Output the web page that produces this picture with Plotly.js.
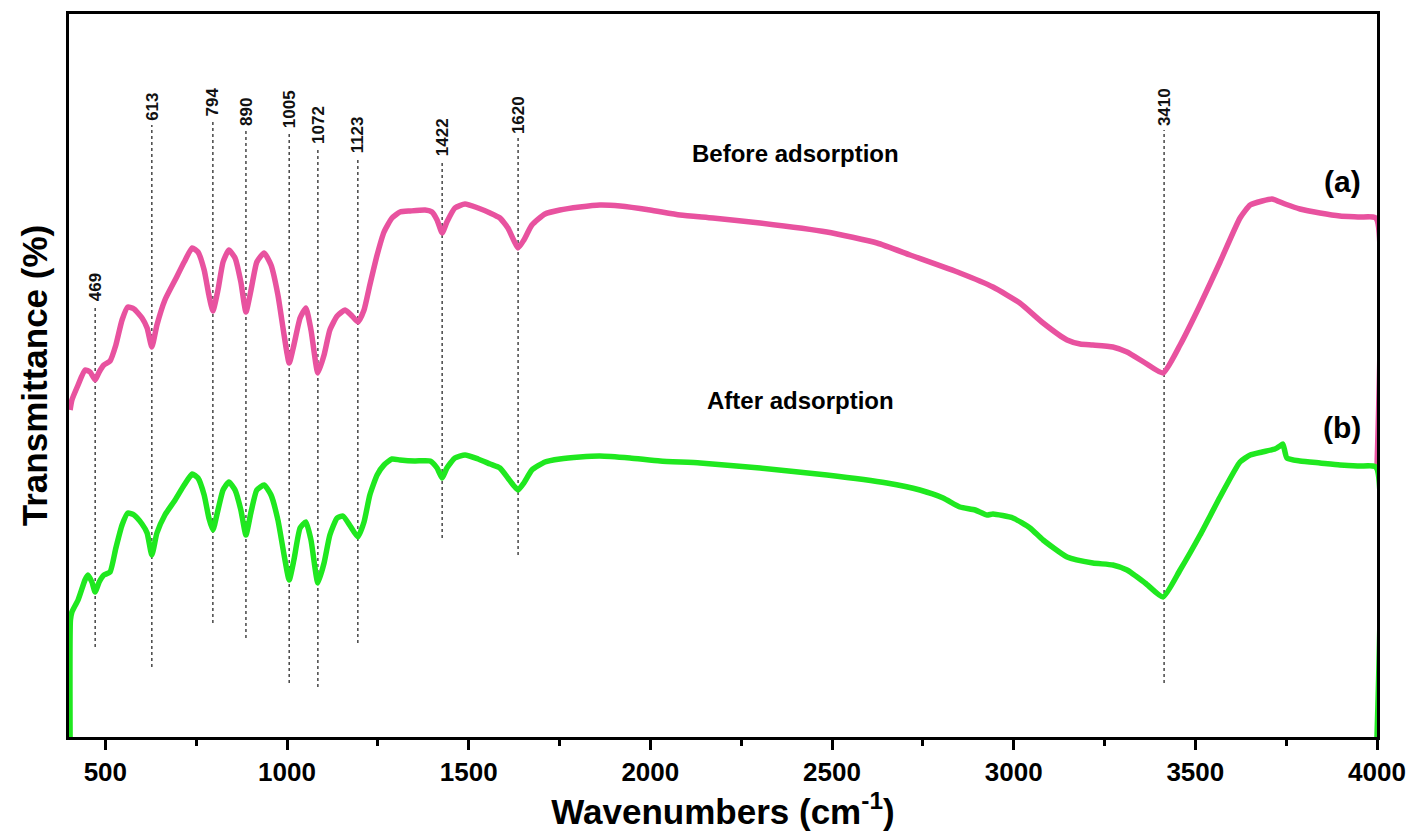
<!DOCTYPE html>
<html>
<head>
<meta charset="utf-8">
<script src="https://cdn.plot.ly/plotly-3.0.1.min.js"></script>
<style>
  html, body { margin: 0; padding: 0; background: #ffffff; }
  #chart { width: 1415px; height: 838px; }
</style>
</head>
<body>
<div id="chart"></div>
<script>
// ---- Data (wavenumber in cm-1, transmittance in arbitrary offset units) ----
const beforeX = [403,408,425,444,458,472,483,496,513,529,546,562,579,601,615,628,642,664,692,717,739,755,772,785,796,810,824,840,857,873,887,901,917,937,956,975,992,1006,1019,1036,1052,1066,1085,1102,1118,1138,1160,1179,1195,1212,1228,1248,1267,1289,1311,1339,1380,1399,1413,1427,1440,1462,1490,1526,1559,1586,1608,1625,1636,1652,1674,1710,1751,1806,1861,1917,1999,2082,2172,2302,2486,2624,2715,2852,2943,3017,3081,3147,3183,3218,3273,3312,3362,3411,3458,3513,3568,3623,3651,3684,3711,3747,3788,3843,3898,3953,3997,4000];
const beforeY = [327,337,352,367,365,357,365,372,376,392,417,430,428,419,409,390,412,437,457,475,489,485,467,442,426,447,475,487,479,455,425,447,475,484,472,442,402,374,392,419,429,407,364,382,407,421,427,421,415,427,452,482,505,519,525,526,527,525,517,504,515,529,533,529,524,519,509,496,489,497,512,523,527,530,532,531,527,522,519,514,505,494,482,464,450,434,414,397,393,392,390,385,374,364,392,432,475,519,532,536,538,533,528,524,521,520,519,270];

const afterX = [403,404,408,425,444,452,463,472,483,496,513,529,546,562,579,601,615,628,642,664,692,717,739,755,772,785,796,810,824,840,857,873,887,901,917,937,956,975,992,1006,1019,1036,1052,1066,1085,1102,1118,1138,1154,1174,1195,1212,1228,1248,1267,1289,1311,1352,1394,1413,1427,1440,1462,1490,1526,1559,1586,1608,1625,1636,1652,1674,1710,1751,1806,1861,1944,2027,2137,2302,2486,2651,2742,2806,2852,2894,2927,2943,2998,3045,3081,3147,3218,3273,3312,3362,3411,3458,3513,3568,3623,3651,3684,3719,3733,3741,3752,3788,3843,3898,3953,3997,4000];
const afterY = [0,117,125,137,157,162,155,145,155,162,165,189,212,224,222,213,204,182,204,222,237,252,263,259,242,219,207,227,247,255,247,227,202,225,247,252,242,217,182,157,177,209,215,197,154,174,202,219,221,211,200,215,242,262,272,278,277,276,276,269,259,269,279,282,278,273,269,259,251,247,254,267,275,278,280,281,279,276,274,269,262,254,247,239,230,227,222,223,219,209,197,180,174,172,167,154,140,167,202,240,275,282,285,288,291,293,279,276,274,272,271,270,0];

// Marked band positions
const peakLabels = ['469','613','794','890','1005','1072','1123','1422','1620','3410'];
const peakX      = [472, 628, 796, 887, 1006, 1085, 1195, 1427, 1636, 3414];
const peakTop    = [432, 612, 617, 607, 605, 589, 580, 577, 599, 607];
const peakBottom = [90, 70, 114, 99, 54, 50, 94, 199, 182, 54];

const seriesNames = ['Before adsorption', 'After adsorption'];
const seriesTags = ['(a)', '(b)'];

const xTicks = [500,1000,1500,2000,2500,3000,3500,4000];

// ---- Traces ----
const pink = '#e8529f';
const green = '#1fe81f';
const traces = [
  { x: beforeX, y: beforeY, type: 'scatter', mode: 'lines', name: seriesNames[0],
    line: { color: pink, width: 5.5, shape: 'spline', smoothing: 0.5 } },
  { x: afterX, y: afterY, type: 'scatter', mode: 'lines', name: seriesNames[1],
    line: { color: green, width: 5.5, shape: 'spline', smoothing: 0.5 } }
];

const shapes = peakX.map((px, i) => ({
  type: 'line', xref: 'x', yref: 'y', layer: 'below',
  x0: px, x1: px, y0: peakBottom[i], y1: peakTop[i],
  line: { color: '#2a2a2a', width: 1.3, dash: '3px,3px' }
}));

const annotations = peakX.map((px, i) => ({
  x: px, y: peakTop[i], xref: 'x', yref: 'y',
  text: peakLabels[i], showarrow: false, textangle: -90,
  xanchor: 'center', yanchor: 'bottom', yshift: 2,
  font: { family: 'Liberation Sans, Arial, sans-serif', size: 17, color: '#111111', weight: 'bold' }
}));

const boldFont = (s) => ({ family: 'Liberation Sans, Arial, sans-serif', size: s, color: '#000000', weight: 'bold' });

annotations.push(
  { x: 2109, y: 584, xref: 'x', yref: 'y', text: seriesNames[0], showarrow: false,
    xanchor: 'left', yanchor: 'middle', font: boldFont(24) },
  { x: 2150, y: 337, xref: 'x', yref: 'y', text: seriesNames[1], showarrow: false,
    xanchor: 'left', yanchor: 'middle', font: boldFont(24) },
  { x: 3904, y: 556, xref: 'x', yref: 'y', text: seriesTags[0], showarrow: false,
    xanchor: 'center', yanchor: 'middle', font: boldFont(30) },
  { x: 3904, y: 310, xref: 'x', yref: 'y', text: seriesTags[1], showarrow: false,
    xanchor: 'center', yanchor: 'middle', font: boldFont(30) }
);

const layout = {
  width: 1415, height: 838,
  margin: { l: 69, r: 38, t: 14, b: 101, pad: 0 },
  paper_bgcolor: '#ffffff', plot_bgcolor: '#ffffff',
  showlegend: false,
  xaxis: {
    range: [400, 4000], tickmode: 'array', tickvals: xTicks,
    ticks: 'outside', ticklen: 10, tickwidth: 3, tickcolor: '#000',
    showline: true, linewidth: 3, linecolor: '#000', mirror: true,
    showgrid: false, zeroline: false,
    tickfont: boldFont(26),
    minor: { tickmode: 'linear', tick0: 250, dtick: 500, ticks: 'outside', ticklen: 6, tickwidth: 3, tickcolor: '#000', showgrid: false },
    title: { text: 'Wavenumbers (cm<sup>-1</sup>)', font: boldFont(35), standoff: 4 }
  },
  yaxis: {
    range: [0, 723], showticklabels: false, ticks: '',
    showline: true, linewidth: 3, linecolor: '#000', mirror: true,
    showgrid: false, zeroline: false,
    title: { text: 'Transmittance (%)', font: boldFont(35), standoff: 8 }
  },
  shapes: shapes,
  annotations: annotations
};

Plotly.newPlot('chart', traces, layout, { displayModeBar: false, staticPlot: true });
</script>
</body>
</html>
